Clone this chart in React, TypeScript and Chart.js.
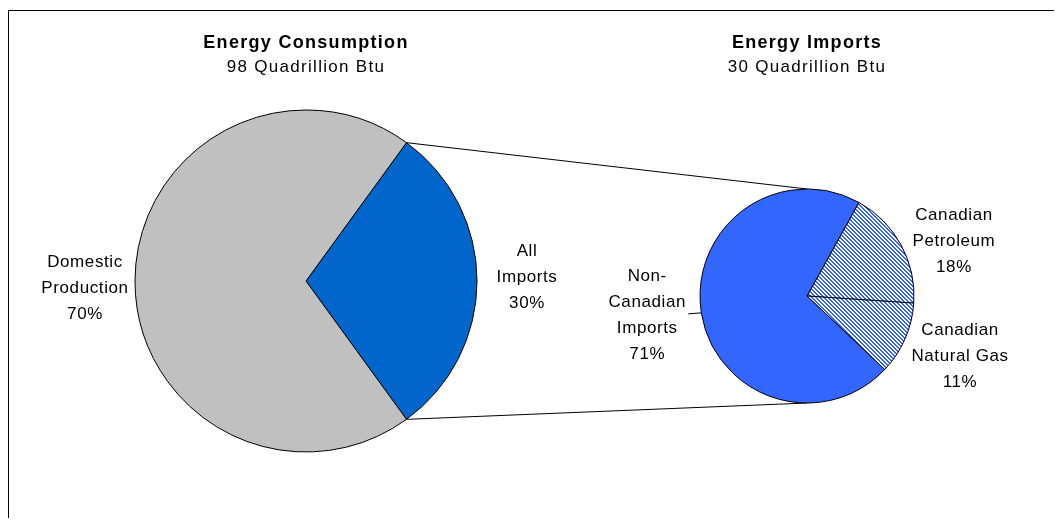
import React, { useEffect, useRef } from 'react';
import { Chart, registerables } from 'chart.js';

Chart.register(...registerables);

// ---- data ----
const consumptionTitle = 'Energy Consumption';
const consumptionSubtitle = '98 Quadrillion Btu';
const consumptionCategories = [['All', 'Imports'], ['Domestic', 'Production']];
const consumptionValues = [30, 70];

const importTitle = 'Energy Imports';
const importSubtitle = '30 Quadrillion Btu';
const importCategories = [['Canadian', 'Petroleum'], ['Canadian', 'Natural Gas'], ['Non-', 'Canadian', 'Imports']];
const importValues = [18, 11, 71];

const FAMILY = '"Liberation Sans", Arial, sans-serif';
const W = 1045;
const H = 507;

function makeStripes(ctx: CanvasRenderingContext2D) {
  const c = document.createElement('canvas');
  c.width = 4;
  c.height = 4;
  const g = c.getContext('2d')!;
  const img = g.createImageData(4, 4);
  for (let y = 0; y < 4; y++) {
    for (let x = 0; x < 4; x++) {
      const k = (y * 4 + x) * 4;
      const blue = ((x - y + 8) % 4) < 2;
      img.data[k] = blue ? 0x33 : 255;
      img.data[k + 1] = blue ? 0x66 : 255;
      img.data[k + 2] = 255;
      img.data[k + 3] = 255;
    }
  }
  g.putImageData(img, 0, 0);
  return ctx.createPattern(c, 'repeat')!;
}

const titleSpacing = {
  id: 'titleSpacing',
  beforeDraw(chart: any) {
    (chart.ctx as any).letterSpacing = '1.3px';
  },
};

const sliceLabels = {
  id: 'sliceLabels',
  afterDatasetsDraw(chart: any, _args: any, opts: any) {
    const meta = chart.getDatasetMeta(0);
    const ds = chart.data.datasets[0];
    const ctx = chart.ctx as CanvasRenderingContext2D;
    ctx.save();
    (ctx as any).letterSpacing = opts.letterSpacing || '0px';
    ctx.font = `${opts.size}px ${FAMILY}`;
    ctx.fillStyle = '#000';
    ctx.strokeStyle = '#000';
    ctx.lineWidth = 1;
    ctx.textAlign = 'center';
    ctx.textBaseline = 'middle';
    meta.data.forEach((arc: any, i: number) => {
      const p = arc.getProps(['x', 'y', 'startAngle', 'endAngle', 'outerRadius'], true);
      const mid = (p.startAngle + p.endAngle) / 2;
      const ex = p.x + Math.cos(mid) * p.outerRadius;
      const ey = p.y + Math.sin(mid) * p.outerRadius;
      const [dx, dy] = opts.offsets[i];
      const lines = [...chart.data.labels[i], `${ds.data[i]}%`];
      const cx = ex + dx;
      const cy = ey + dy;
      const top = cy - ((lines.length - 1) * opts.lineHeight) / 2;
      lines.forEach((l: string, k: number) => ctx.fillText(l, cx, top + k * opts.lineHeight));
      if (opts.leaders && opts.leaders[i]) {
        const len = opts.leaders[i];
        ctx.beginPath();
        ctx.moveTo(ex, ey + 0.5);
        ctx.lineTo(ex + (Math.cos(mid) < 0 ? -len : len), ey + 1.5);
        ctx.stroke();
      }
    });
    ctx.restore();
  },
};

function baseOptions(title: string, subtitle: string) {
  return {
    responsive: false,
    animation: false as const,
    events: [] as any[],
    plugins: {
      legend: { display: false },
      tooltip: { enabled: false },
      title: {
        display: true,
        text: title,
        color: '#000',
        font: { size: 18, weight: 'bold' as const, family: FAMILY, lineHeight: 1.2 },
        padding: { top: 21, bottom: 0 },
      },
      subtitle: {
        display: true,
        text: subtitle,
        color: '#000',
        font: { size: 17, weight: 'normal' as const, family: FAMILY, lineHeight: 1.2 },
        padding: { top: 4, bottom: 0 },
      },
    },
  };
}

export default function App() {
  const ref1 = useRef<HTMLCanvasElement>(null);
  const ref2 = useRef<HTMLCanvasElement>(null);

  useEffect(() => {
    if (!ref1.current || !ref2.current) return;
    const b1 = baseOptions(consumptionTitle, consumptionSubtitle);
    const c1 = new Chart(ref1.current, {
      type: 'pie',
      data: {
        labels: consumptionCategories as any,
        datasets: [
          {
            data: consumptionValues,
            backgroundColor: ['#0066CC', '#C0C0C0'],
            borderColor: '#000',
            borderWidth: 1,
          },
        ],
      },
      options: {
        ...b1,
        rotation: 36,
        radius: 171,
        layout: { padding: { left: 0, right: 451, top: 0, bottom: 34 } },
        plugins: {
          ...b1.plugins,
          sliceLabels: { size: 17, lineHeight: 26, letterSpacing: '0.6px', offsets: [[50, -4], [-50, 7]] },
        },
      } as any,
      plugins: [titleSpacing, sliceLabels] as any,
    });

    const ctx2 = ref2.current.getContext('2d')!;
    const stripes = makeStripes(ctx2);
    const connectors = {
      id: 'connectors',
      beforeDatasetsDraw(chart: any) {
        const src = c1.getDatasetMeta(0).data[0] as any;
        const tgt = chart.getDatasetMeta(0).data[0] as any;
        if (!src || !tgt) return;
        const s = src.getProps(['x', 'y', 'startAngle', 'endAngle', 'outerRadius'], true);
        const t = tgt.getProps(['x', 'y', 'outerRadius'], true);
        const ctx = chart.ctx as CanvasRenderingContext2D;
        ctx.save();
        ctx.strokeStyle = '#000';
        ctx.lineWidth = 1;
        ctx.beginPath();
        ctx.moveTo(s.x + Math.cos(s.startAngle) * s.outerRadius, s.y + Math.sin(s.startAngle) * s.outerRadius);
        ctx.lineTo(t.x, t.y - t.outerRadius);
        ctx.moveTo(s.x + Math.cos(s.endAngle) * s.outerRadius, s.y + Math.sin(s.endAngle) * s.outerRadius);
        ctx.lineTo(t.x, t.y + t.outerRadius);
        ctx.stroke();
        ctx.restore();
      },
    };

    const b2 = baseOptions(importTitle, importSubtitle);
    const c2 = new Chart(ref2.current, {
      type: 'pie',
      data: {
        labels: importCategories as any,
        datasets: [
          {
            data: importValues,
            backgroundColor: [stripes, stripes, '#3366FF'] as any,
            borderColor: '#000',
            borderWidth: 1,
          },
        ],
      },
      options: {
        ...b2,
        rotation: 29,
        radius: 107,
        layout: { padding: { left: 551, right: 0, top: 0, bottom: 4 } },
        plugins: {
          ...b2.plugins,
          sliceLabels: {
            size: 17,
            lineHeight: 26,
            letterSpacing: '0.6px',
            offsets: [[53, -3], [55, 17], [-54, 3]],
            leaders: [0, 0, 13],
          },
        },
      } as any,
      plugins: [titleSpacing, connectors, sliceLabels] as any,
    });

    return () => {
      c2.destroy();
      c1.destroy();
    };
  }, []);

  return (
    <div style={{ paddingTop: 2 }}>
      <div
        style={{
          position: 'relative',
          width: W,
          height: H,
          borderTop: '1px solid #000',
          borderLeft: '1px solid #000',
        }}
      >
        <canvas ref={ref1} width={W} height={H} style={{ position: 'absolute', left: 0, top: 0, width: W, height: H }} />
        <canvas ref={ref2} width={W} height={H} style={{ position: 'absolute', left: 0, top: 0, width: W, height: H }} />
      </div>
    </div>
  );
}
